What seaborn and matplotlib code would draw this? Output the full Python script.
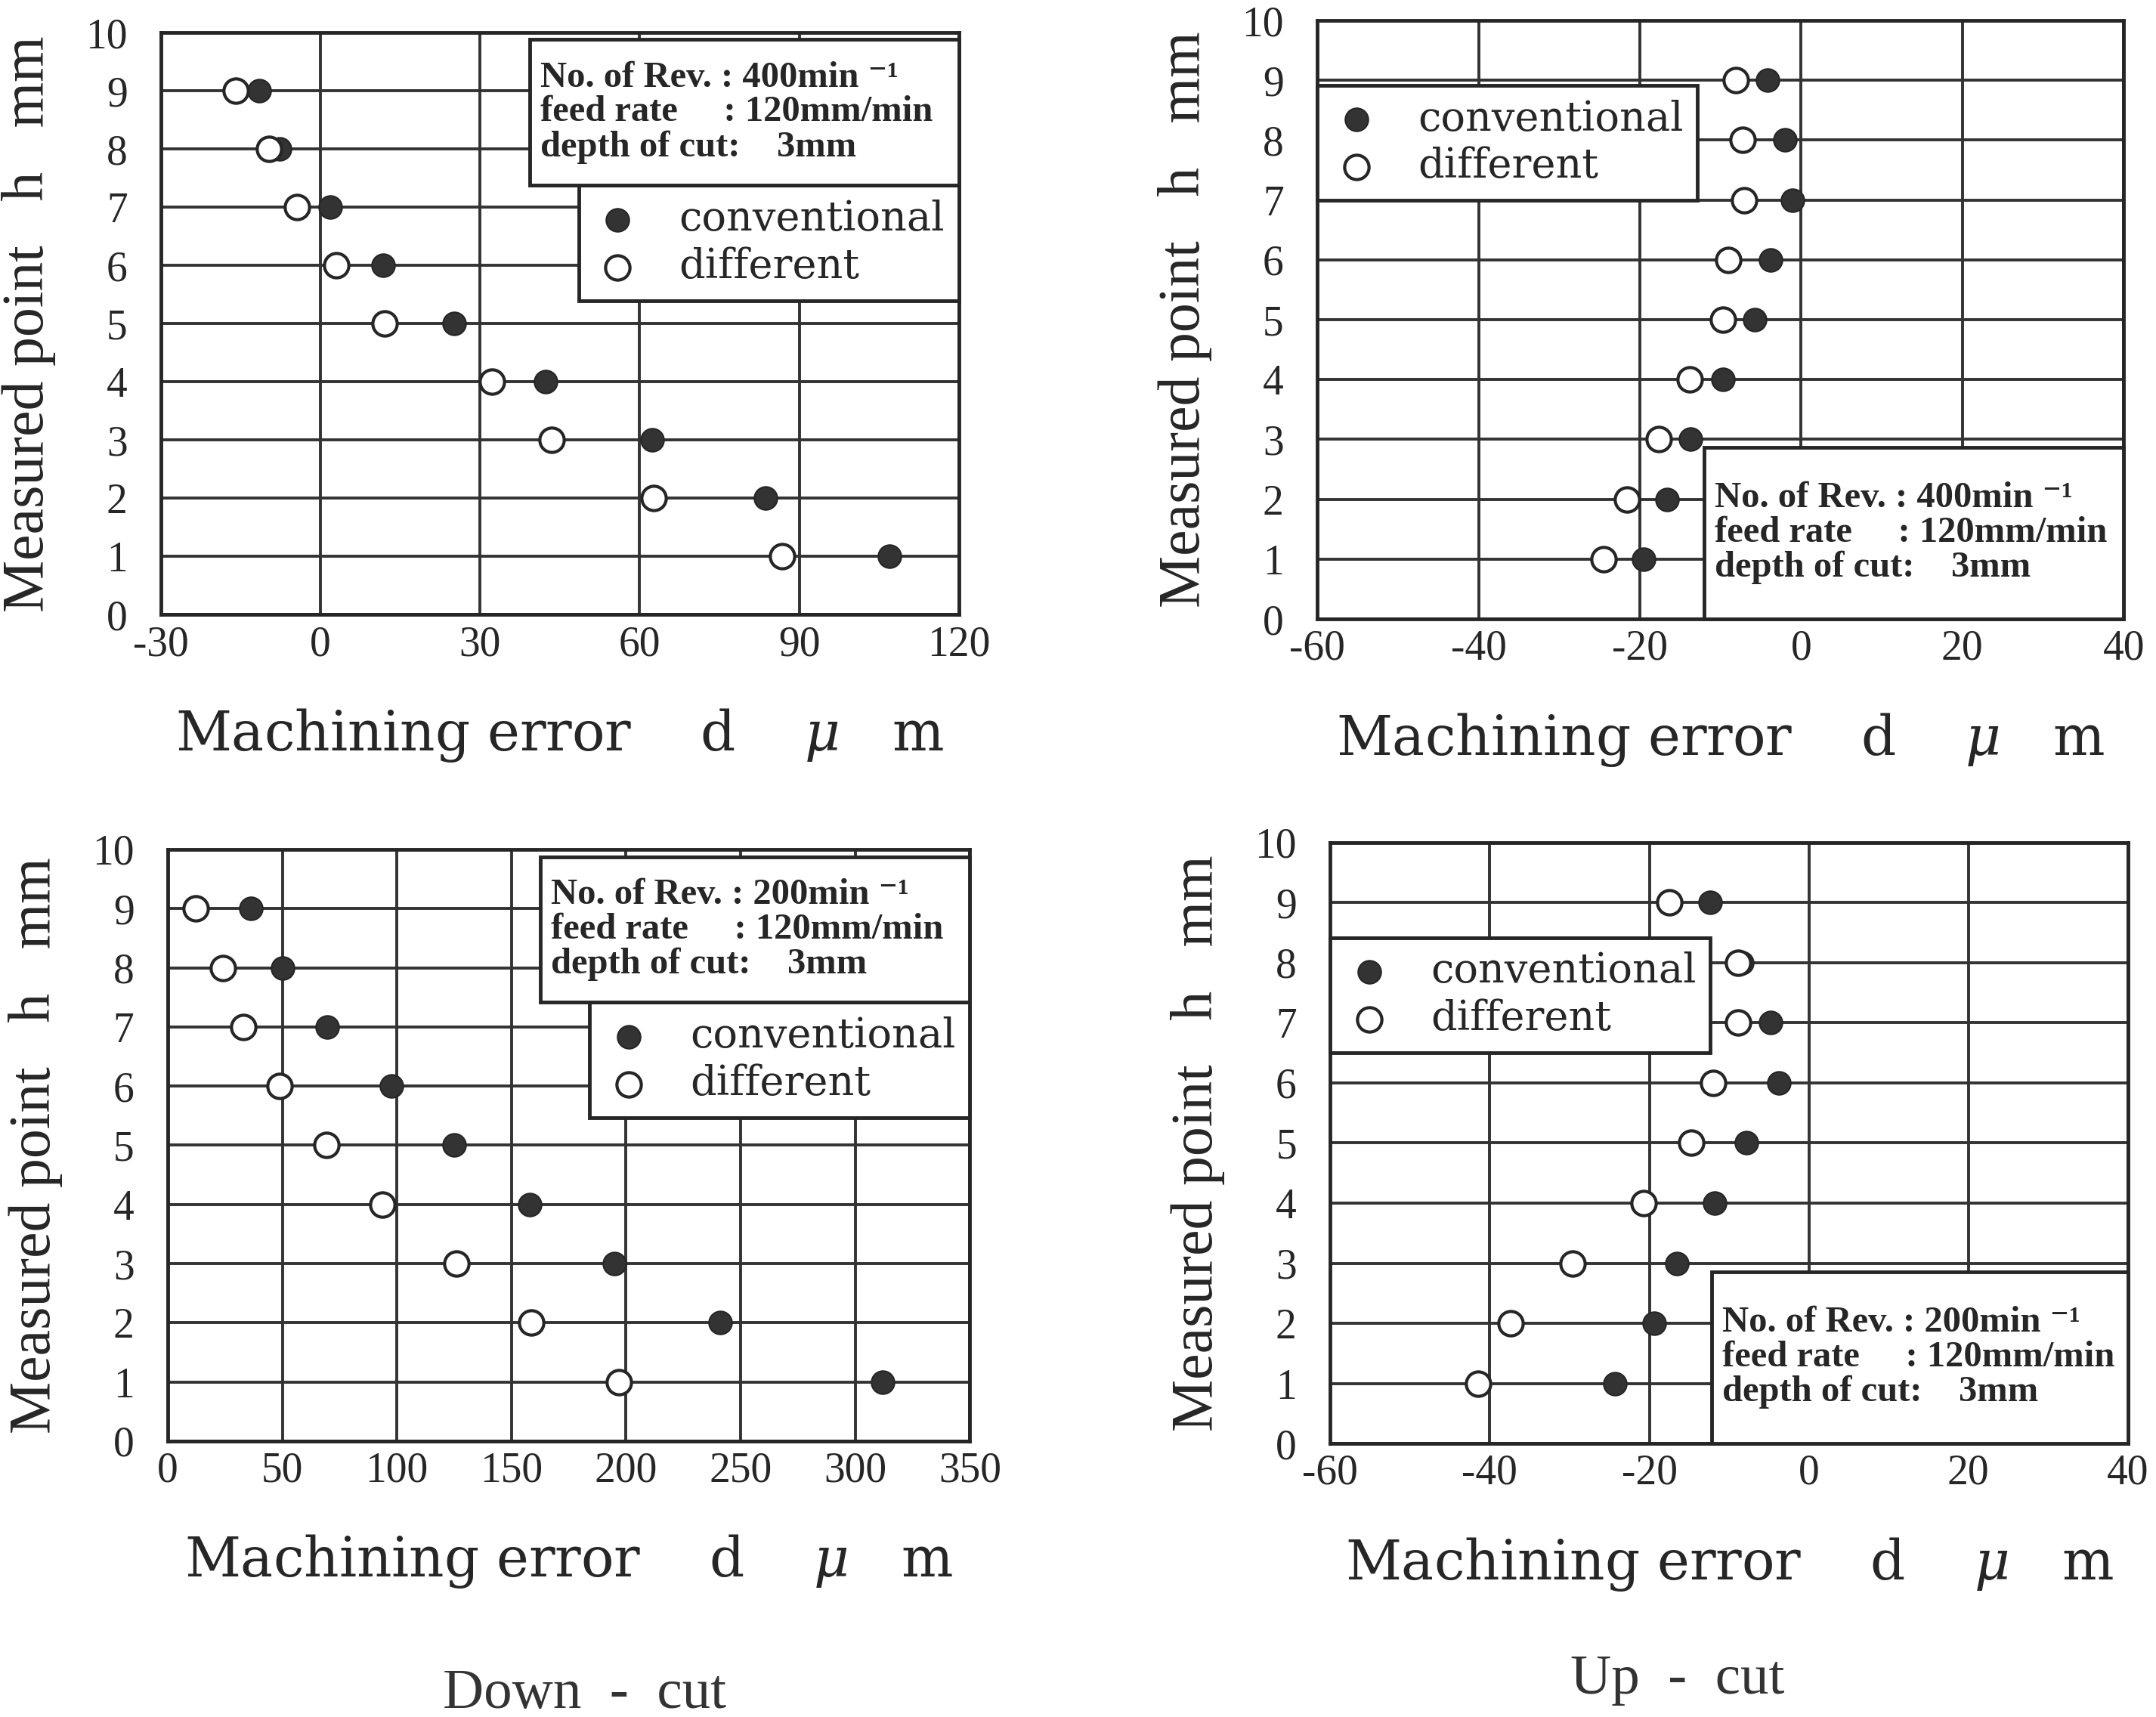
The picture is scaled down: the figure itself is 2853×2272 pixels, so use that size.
import numpy as np
import pandas as pd
import seaborn as sns
import matplotlib.pyplot as plt
from matplotlib.patches import Rectangle

# measured points h (mm) and machining error d (um)
points = [1, 2, 3, 4, 5, 6, 7, 8, 9]

down400_conv = [107.0, 83.6, 62.4, 42.3, 25.1, 11.8, 1.8, -7.7, -11.5]
down400_diff = [86.8, 62.6, 43.4, 32.2, 12.0, 2.9, -4.5, -9.7, -15.9]
up400_conv = [-19.5, -16.6, -13.7, -9.7, -5.8, -3.8, -1.1, -2.0, -4.2]
up400_diff = [-24.5, -21.6, -17.7, -13.8, -9.7, -9.0, -7.1, -7.3, -8.1]
down200_conv = [312.0, 241.0, 195.0, 158.0, 125.0, 97.6, 69.7, 50.0, 36.3]
down200_diff = [197.0, 158.5, 126.0, 93.8, 69.2, 48.9, 33.0, 24.1, 12.2]
up200_conv = [-24.3, -19.4, -16.5, -11.8, -7.8, -3.8, -4.8, -8.4, -12.4]
up200_diff = [-41.5, -37.4, -29.6, -20.7, -14.7, -12.0, -8.9, -8.9, -17.5]

ticks_down400 = [-30, 0, 30, 60, 90, 120]
ticks_down200 = [0, 50, 100, 150, 200, 250, 300, 350]
ticks_up = [-60, -40, -20, 0, 20, 40]

info400 = "No. of Rev. : 400min \u207b\u00b9\nfeed rate     : 120mm/min\ndepth of cut:    3mm"
info200 = "No. of Rev. : 200min \u207b\u00b9\nfeed rate     : 120mm/min\ndepth of cut:    3mm"

xlabel = "Machining error    d    $\\mu$   m"
ylabel = "Measured point   h   mm"

sns.set_theme(style='white')
plt.rcParams['font.family'] = ['Liberation Serif', 'DejaVu Serif']
plt.rcParams['mathtext.fontset'] = 'dejavuserif'
plt.rcParams['axes.unicode_minus'] = False
ink = '#262626'

fig = plt.figure(figsize=(28.53, 22.72), dpi=100)
fig.patch.set_facecolor('white')


def panel(rect, conv, diff, xticks, info, leg_loc, leg_anchor, box):
    ax = fig.add_axes(rect)
    df = pd.DataFrame({'h': points, 'conv': conv, 'diff': diff})
    sns.scatterplot(data=df, x='conv', y='h', ax=ax, s=480, color='#333333',
                    edgecolor=ink, linewidth=1.5, label='conventional', zorder=3)
    sns.scatterplot(data=df, x='diff', y='h', ax=ax, s=540, color='white',
                    edgecolor=ink, linewidth=3, label='different', zorder=4)
    ax.set_xlim(xticks[0], xticks[-1])
    ax.set_ylim(0, 10)
    ax.set_xticks(xticks)
    ax.set_yticks(range(0, 11))
    ax.grid(True, color='#333333', lw=2.8)
    ax.set_axisbelow(True)
    for sp in ax.spines.values():
        sp.set_visible(True)
        sp.set_color(ink)
        sp.set_linewidth(3.5)
    ax.tick_params(length=0, labelsize=40, colors=ink)
    ax.tick_params(axis='x', pad=10)
    ax.tick_params(axis='y', pad=32)
    ax.set_xlabel(xlabel, fontsize=52, labelpad=40, color=ink, family=['DejaVu Serif'])
    ax.set_ylabel(ylabel, fontsize=56, labelpad=28, color=ink)

    leg = ax.legend(loc=leg_loc, bbox_to_anchor=leg_anchor, borderaxespad=0,
                    frameon=True, fancybox=False, framealpha=1, edgecolor=ink,
                    prop={'family': ['DejaVu Serif'], 'size': 39},
                    handlelength=1.2, handletextpad=0.9, borderpad=0.35,
                    labelspacing=0.2)
    leg.get_frame().set_linewidth(3.5)
    for t in leg.get_texts():
        t.set_color(ink)

    x0, y0, w, h = box
    ax.add_patch(Rectangle((x0, y0), w, h, transform=ax.transAxes, facecolor='white',
                           edgecolor=ink, lw=3.5, zorder=6, clip_on=False))
    ax.text(x0 + 0.013, y0 + h / 2, info, transform=ax.transAxes, ha='left', va='center',
            fontsize=35, fontweight='bold', linespacing=1.05, color=ink, zorder=7)
    return ax


panel([0.0747, 0.642, 0.370, 0.339], down400_conv, down400_diff, ticks_down400, info400,
      'upper right', (1.0, 0.738), (0.462, 0.738, 0.538, 0.25))
panel([0.611, 0.6395, 0.374, 0.3486], up400_conv, up400_diff, ticks_up, info400,
      'upper left', (0.0, 0.892), (0.48, 0.0, 0.52, 0.287))
panel([0.0778, 0.1607, 0.372, 0.3446], down200_conv, down200_diff, ticks_down200, info200,
      'upper right', (1.0, 0.742), (0.465, 0.742, 0.535, 0.245))
panel([0.617, 0.1593, 0.370, 0.350], up200_conv, up200_diff, ticks_up, info200,
      'upper left', (0.0, 0.842), (0.478, 0.0, 0.522, 0.286))

fig.text(773 / 2853, 1 - 2242 / 2272, "Down  -  cut", ha='center', va='center',
         fontsize=54, color='#333333')
fig.text(2220 / 2853, 1 - 2223 / 2272, "Up  -  cut", ha='center', va='center',
         fontsize=54, color='#333333')

fig.savefig('out.png', dpi=100, facecolor='white')
